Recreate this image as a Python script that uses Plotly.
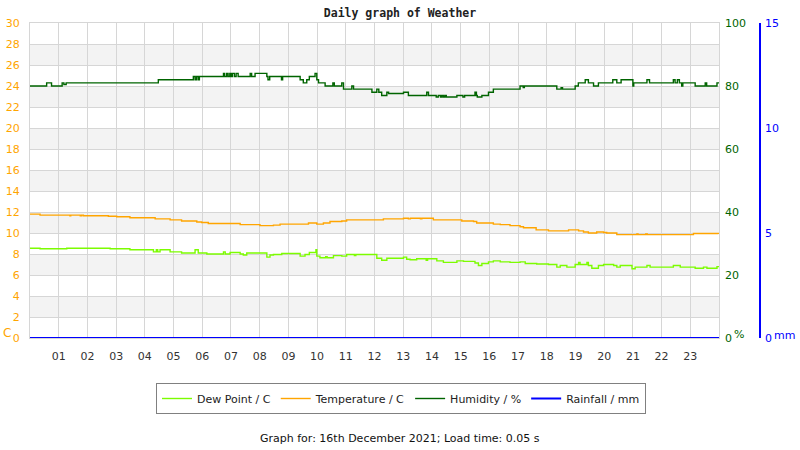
import plotly.graph_objects as go

# ---------------- data ----------------
hour_ticks = list(range(1, 24))
hour_labels = [f"{h:02d}" for h in hour_ticks]
temp_ticks = list(range(0, 31, 2))
hum_ticks = [0, 20, 40, 60, 80, 100]
rain_ticks = [0, 5, 10, 15]

hum_hours = [0.00, 0.58, 0.75, 1.12, 1.18, 1.26, 4.47, 5.69, 5.75, 5.80, 5.86, 5.90,
             6.74, 6.78, 6.85, 6.90, 6.96, 7.00, 7.05, 7.12, 7.18, 7.25, 7.67, 7.72,
             7.84, 8.25, 8.29, 8.35, 8.76, 8.80, 9.41, 9.52, 9.64, 9.73, 9.93, 9.99,
             10.05, 10.28, 10.55, 10.60, 10.86, 10.92, 11.21, 11.27, 11.91, 12.08,
             12.15, 12.25, 12.43, 12.49, 13.01, 13.18, 13.82, 13.88, 14.05, 14.15,
             14.22, 14.30, 14.35, 14.40, 14.45, 14.50, 14.87, 15.08, 15.14, 15.50,
             15.55, 15.58, 15.74, 15.97, 16.14, 17.07, 17.18, 17.22, 18.35, 18.50,
             18.55, 18.99, 19.10, 19.34, 19.45, 19.63, 19.80, 20.30, 20.44, 20.59,
             21.00, 21.03, 21.49, 21.58, 22.41, 22.47, 22.55, 22.62, 22.70, 22.74,
             23.17, 23.52, 23.57, 23.93, 24.00]
hum_values = [80, 81, 80, 81, 80.5, 81, 82, 83, 82, 83, 82, 83,
              84, 83, 84, 83, 84, 83, 84, 83, 84, 83, 84, 83,
              84, 83, 82, 83, 82, 83, 82, 81, 82, 83, 84, 82,
              81, 80, 81, 80, 81, 79, 80, 79, 78, 79,
              78, 77, 78, 77.6, 78, 77, 78, 77, 77, 76.5,
              77, 76.5, 77, 76.5, 77, 76.5, 77, 76.5, 77, 78,
              77, 76.5, 77, 78, 79, 80, 79.5, 80, 79, 79.5,
              79, 80, 81, 82, 81, 80, 81, 82, 81, 82,
              80, 81, 82, 81, 82, 81, 82, 81, 80, 81,
              80, 81, 80, 81, 81]

temp_hours = [0.00, 0.35, 1.39, 1.42, 1.75, 1.80, 1.86, 2.73, 3.02, 3.48, 4.36, 4.88,
              5.28, 5.81, 5.98, 6.21, 7.32, 8.01, 8.48, 8.71, 9.70, 9.99, 10.22,
              10.45, 10.86, 11.03, 12.31, 13.01, 13.18, 13.25, 13.60, 13.65, 14.05,
              15.04, 15.45, 15.56, 16.14, 16.38, 16.72, 17.07, 17.19, 17.63, 18.06,
              18.76, 19.11, 19.28, 19.45, 19.74, 19.98, 20.09, 20.44, 21.14, 21.18,
              21.45, 21.50, 23.11, 23.98]
temp_values = [11.8, 11.7, 11.65, 11.7, 11.65, 11.7, 11.65, 11.6, 11.55, 11.45, 11.35, 11.25,
               11.15, 11.05, 11.0, 10.9, 10.8, 10.7, 10.75, 10.85, 10.95, 10.85, 10.95,
               11.1, 11.15, 11.25, 11.35, 11.4, 11.35, 11.4, 11.35, 11.4, 11.25,
               11.15, 11.1, 10.95, 10.85, 10.8, 10.7, 10.6, 10.5, 10.3, 10.2,
               10.3, 10.2, 10.1, 10.0, 10.1, 10.05, 10.0, 9.85, 9.9, 9.85,
               9.9, 9.85, 9.95, 9.9]

dew_hours = [0.00, 0.35, 1.28, 2.79, 3.48, 4.30, 4.40, 4.45, 4.53, 4.88, 5.28, 5.75,
             5.86, 6.16, 6.74, 6.80, 6.97, 7.32, 7.43, 7.55, 8.25, 8.36, 8.48, 8.77,
             9.41, 9.58, 9.73, 9.96, 9.99, 10.10, 10.30, 10.35, 10.57, 10.86, 11.03,
             11.30, 11.35, 11.84, 12.08, 12.25, 12.43, 13.01, 13.12, 13.24, 13.47,
             13.80, 13.85, 14.17, 14.40, 14.87, 15.10, 15.50, 15.62, 15.74, 15.97,
             16.14, 16.38, 16.72, 17.07, 17.25, 17.65, 18.06, 18.35, 18.47, 18.70,
             18.99, 19.11, 19.16, 19.40, 19.45, 19.57, 19.80, 19.98, 20.33, 20.44,
             20.56, 20.97, 21.08, 21.49, 21.60, 22.41, 22.65, 23.17, 23.46, 23.58,
             23.93, 24.00]
dew_values = [8.55, 8.5, 8.55, 8.5, 8.4, 8.2, 8.4, 8.2, 8.4, 8.2, 8.1, 8.4,
              8.1, 8.0, 8.2, 8.0, 8.15, 8.0, 7.9, 8.1, 7.7, 7.9, 7.95, 8.05,
              7.8, 7.95, 8.15, 8.4, 7.8, 7.65, 7.75, 7.65, 7.85, 7.8, 7.95,
              7.85, 7.95, 7.95, 7.6, 7.4, 7.6, 7.7, 7.5, 7.45, 7.55,
              7.4, 7.55, 7.35, 7.2, 7.35, 7.3, 7.15, 6.9, 7.1, 7.25,
              7.35, 7.25, 7.2, 7.25, 7.1, 7.05, 7.0, 6.75, 6.9, 6.75,
              7.0, 7.2, 7.0, 7.2, 6.9, 6.65, 6.9, 7.0, 6.9, 6.75,
              6.9, 6.6, 6.75, 6.9, 6.75, 6.9, 6.75, 6.65, 6.75, 6.65,
              6.8, 6.8]

rain_hours = [0.0, 6.0, 12.0, 18.0, 24.0]
rain_values = [0, 0, 0, 0, 0]

# ---------------- figure ----------------
ORANGE = "#FFA500"
GREEN = "#006400"
LGREEN = "#7CFC00"
BLUE = "#0000FF"
GRID = "#d6d6d6"
FONT = "DejaVu Sans"

W, H = 800, 450
ML, MR, MT, MB = 30, 20, 23, 112
PW = W - ML - MR            # paper width
PH = H - MT - MB            # paper height
plot_right = 719
xdom = (plot_right - ML) / PW
rain_pos = (760 - ML) / PW


def px_x(px):
    return (px - ML) / PW


def px_y(py):
    return (H - MB - py) / PH


fig = go.Figure()
fig.add_trace(go.Scatter(x=dew_hours, y=dew_values, name="Dew Point / C", mode="lines",
                         line=dict(color=LGREEN, width=1.4, shape="hv"), yaxis="y"))
fig.add_trace(go.Scatter(x=temp_hours, y=temp_values, name="Temperature / C", mode="lines",
                         line=dict(color=ORANGE, width=1.4, shape="hv"), yaxis="y"))
fig.add_trace(go.Scatter(x=hum_hours, y=hum_values, name="Humidity / %", mode="lines",
                         line=dict(color=GREEN, width=1.4, shape="hv"), yaxis="y2"))
fig.add_trace(go.Scatter(x=rain_hours, y=rain_values, name="Rainfall / mm", mode="lines",
                         line=dict(color=BLUE, width=2, shape="hv"), yaxis="y3", cliponaxis=False))

# alternating grey bands on the temperature axis
shapes = []
for v in temp_ticks[:-1]:
    if (v // 2) % 2 == 1:
        shapes.append(dict(type="rect", xref="x domain", yref="y", x0=0, x1=1,
                           y0=v, y1=v + 2, fillcolor="#f3f3f3", line=dict(width=0),
                           layer="below"))

fig.update_layout(
    width=W, height=H,
    margin=dict(l=ML, r=MR, t=MT, b=MB, pad=0, autoexpand=False),
    paper_bgcolor="white", plot_bgcolor="white",
    font=dict(family=FONT, size=11, color="#333333"),
    title=dict(text="<b>Daily graph of Weather</b>", x=0.5, xref="container", xanchor="center",
               y=1 - 13 / H, yref="container", yanchor="middle",
               font=dict(family="DejaVu Sans Mono", size=11.5, color="#222222")),
    shapes=shapes,
    showlegend=True,
    legend=dict(orientation="h", x=px_x(401), xanchor="center",
                y=px_y(383), yanchor="top",
                bordercolor="#808080", borderwidth=1, bgcolor="white",
                font=dict(family=FONT, size=11, color="#222222"),
                itemwidth=30, tracegroupgap=0),
    xaxis=dict(domain=[0, xdom], range=[0, 24], tickvals=hour_ticks, ticktext=hour_labels,
               showgrid=True, gridcolor=GRID, gridwidth=1, zeroline=False, automargin=False,
               showline=True, mirror=True, linecolor=GRID, linewidth=1,
               ticks="", ticklabelstandoff=8, tickfont=dict(size=11, color="#333333")),
    yaxis=dict(range=[0, 30], tickvals=temp_ticks, showgrid=True, gridcolor=GRID,
               zeroline=False, showline=True, mirror=True, linecolor=GRID, automargin=False,
               ticks="", ticklabelstandoff=7, tickfont=dict(size=11, color=ORANGE)),
    yaxis2=dict(overlaying="y", side="right", anchor="x", range=[0, 100], tickvals=hum_ticks,
                showgrid=False, zeroline=False, showline=False, ticks="", automargin=False,
                ticklabelstandoff=5, tickfont=dict(size=11, color=GREEN)),
    yaxis3=dict(overlaying="y", side="right", anchor="free", position=rain_pos,
                range=[0, 15], tickvals=rain_ticks, showgrid=False, zeroline=False,
                showline=True, linecolor=BLUE, linewidth=1.5, ticks="", automargin=False,
                ticklabelstandoff=2, tickfont=dict(size=11, color=BLUE)),
)

# unit labels and footer
fig.add_annotation(text="C", xref="paper", yref="paper", x=px_x(2), y=px_y(333),
                   xanchor="left", yanchor="middle", showarrow=False, borderpad=0,
                   font=dict(size=12, color=ORANGE))
fig.add_annotation(text="%", xref="paper", yref="paper", x=px_x(733), y=px_y(334),
                   xanchor="left", yanchor="middle", showarrow=False, borderpad=0,
                   font=dict(size=11, color=GREEN))
fig.add_annotation(text="mm", xref="paper", yref="paper", x=px_x(773), y=px_y(335),
                   xanchor="left", yanchor="middle", showarrow=False, borderpad=0,
                   font=dict(size=11, color=BLUE))
fig.add_annotation(text="Graph for: 16th December 2021; Load time: 0.05 s",
                   xref="paper", yref="paper", x=px_x(400), y=px_y(438),
                   xanchor="center", yanchor="middle", showarrow=False,
                   font=dict(size=11, color="#111111"))

fig.write_html("out.html")
